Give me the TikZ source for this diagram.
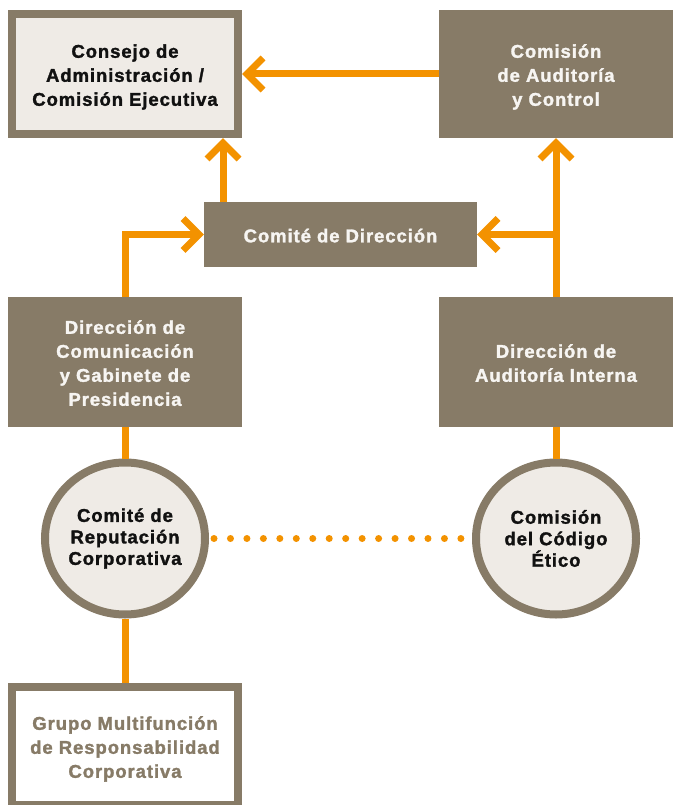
\documentclass[tikz,border=0pt]{standalone}
\usepackage{fontspec}
\newfontfamily\labfont{Liberation Sans Bold}[FakeBold=1.6, LetterSpace=5]
\usetikzlibrary{shapes.geometric,calc}
\definecolor{brn}{HTML}{877B67}
\definecolor{lite}{HTML}{EFEBE6}
\definecolor{org}{HTML}{F39200}
\definecolor{wtxt}{HTML}{F7F5F2}
\definecolor{dtxt}{HTML}{111111}
\newcommand{\mlines}[1]{\raisebox{-3pt}[\height][\depth]{\begin{tabular}{@{}c@{}}#1\end{tabular}}}
\begin{document}
\begin{tikzpicture}[x=1pt,y=-1pt,
  lab/.style={font=\labfont\fontsize{18.5}{24}\selectfont, align=center, inner sep=0pt},
  clab/.style={font=\labfont\fontsize{18.5}{21.5}\selectfont, align=center, inner sep=0pt, text=dtxt},
  darkbox/.style={lab, rectangle, fill=brn, text=wtxt, outer sep=0pt},
  framebox/.style={lab, rectangle, draw=brn, line width=8pt, minimum width=226pt},
  ring/.style={ellipse, draw=brn, fill=lite, line width=8pt, minimum width=160pt, minimum height=152pt, inner sep=0pt},
  conn/.style={draw=org, line width=7pt, line join=miter},
  dotline/.style={draw=org, line width=7pt, line cap=round, dash pattern=on 0pt off 16.46pt}
]
\useasboundingbox (0,0) rectangle (680,805);

% boxes
\node[framebox, fill=lite, text=dtxt, minimum height=120pt] (cons) at (125,74)
  {\mlines{Consejo de\\Administración /\\Comisión Ejecutiva}};
\node[darkbox, minimum width=234pt, minimum height=128pt] (cac) at (556,74)
  {\mlines{Comisión\\de Auditoría\\y Control}};
\node[darkbox, minimum width=273pt, minimum height=65pt] (cd) at (340.5,234.5)
  {\mlines{Comité de Dirección}};
\node[darkbox, minimum width=234pt, minimum height=130pt] (dcg) at (125,362)
  {\mlines{Dirección de\\Comunicación\\y Gabinete de\\Presidencia}};
\node[darkbox, minimum width=234pt, minimum height=130pt] (dai) at (556,362)
  {\mlines{Dirección de\\Auditoría Interna}};
\node[ring, label={[clab]center:Comité de\\Reputación\\Corporativa}] (crc) at (125,538.5) {};
\node[ring, label={[clab]center:Comisión\\del Código\\Ético}] (cce) at (556,538.5) {};
\node[framebox, fill=white, text=brn, minimum height=118pt] (gmr) at (125,746)
  {\mlines{Grupo Multifunción\\de Responsabilidad\\Corporativa}};

% connectors
\coordinate (xb) at (223,0);
\coordinate (jr) at (dai.north |- cd.east);

\draw[conn, shorten >=6pt] (cac.west) -- (cons.east);
\draw[conn, shift={(cons.east)}] (21,-16) -- (5,0) -- (21,16);

\draw[conn, shorten >=6pt] (cd.north -| xb) -- (cons.south -| xb);
\draw[conn, shift={(cons.south -| xb)}] (-16,21) -- (0,5) -- (16,21);

\draw[conn, shorten >=6pt] (dai.north) -- (cac.south);
\draw[conn, shift={(cac.south)}] (-16,21) -- (0,5) -- (16,21);

\draw[conn, shorten >=6pt] (jr) -- (cd.east);
\draw[conn, shift={(cd.east)}] (21,-16) -- (5,0) -- (21,16);

\draw[conn, shorten >=6pt] (dcg.north) |- (cd.west);
\draw[conn, shift={(cd.west)}] (-21,-16) -- (-5,0) -- (-21,16);

\draw[conn] (dcg.south) -- (crc.north);
\draw[conn] (dai.south) -- (cce.north);
\draw[conn] (crc.south) -- (gmr.north);

\draw[dotline, shorten <=5pt, shorten >=10.9pt] (crc.east) -- (cce.west);
\end{tikzpicture}
\end{document}
